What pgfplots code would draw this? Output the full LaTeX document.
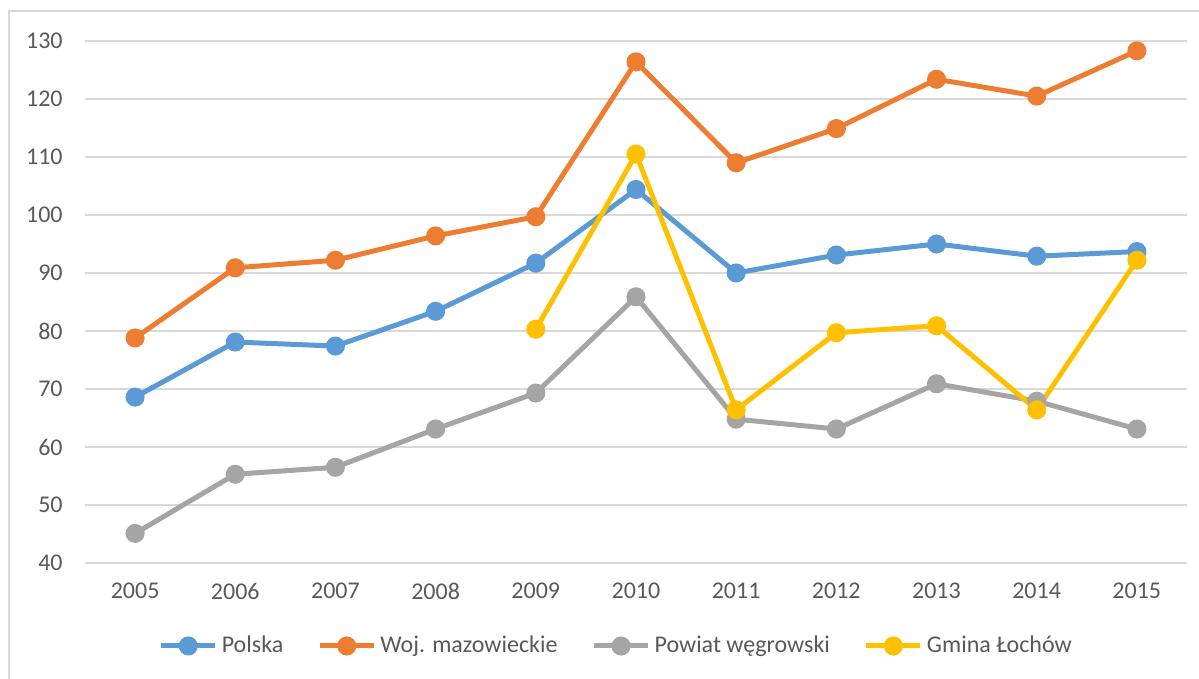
\documentclass[border=0pt]{standalone}
\usepackage{pgfplots}
\pgfplotsset{compat=1.18}
\usepackage{fontspec}
\setmainfont{Carlito}
\definecolor{cPol}{HTML}{5B9BD5}
\definecolor{cWoj}{HTML}{ED7D31}
\definecolor{cPow}{HTML}{A5A5A5}
\definecolor{cGmi}{HTML}{FFC000}
\definecolor{gridc}{HTML}{D9D9D9}
\definecolor{txt}{HTML}{595959}
\begin{document}
\fontsize{12}{14}\selectfont
\begin{tikzpicture}[x=0.5pt,y=0.5pt]
\useasboundingbox (0,0) rectangle (1199,679);
\draw[gridc,line width=0.8pt] (9,0) -- (9,668) -- (1199,668);
\begin{axis}[
  at={(42.5pt,58pt)}, anchor=south west,
  scale only axis, width=551pt, height=261pt,
  xmin=2004.5, xmax=2015.5, ymin=40, ymax=130,
  xtick={2005,...,2015},
  xticklabels={2005,2006,2007,2008,2009,2010,2011,2012,2013,2014,2015},
  ytick={40,50,...,130},
  axis line style={draw=none},
  major tick length=0pt,
  ymajorgrids, grid style={gridc,line width=0.75pt},
  tick label style={font=\fontsize{12}{14}\selectfont, text=txt},
  /pgf/number format/assume math mode=true,
  yticklabel style={xshift=-7pt},
  xticklabel style={yshift=-6pt},
  every axis plot/.append style={line width=2.5pt, mark=*, mark size=3.5pt},
  legend columns=-1,
  legend style={draw=none, fill=none, at={(0.483,-0.159)}, anchor=center,
    font=\fontsize{12}{14}\selectfont, text=txt,
    /tikz/every even column/.append style={column sep=15pt}},
  legend image code/.code={
    \draw[#1,mark=none] (0pt,0pt) -- (27pt,0pt);
    \draw[#1,only marks] plot coordinates {(13.5pt,0pt)};
  },
]
\addplot[color=cPol, mark options={fill=cPol}] coordinates {
(2005,68.6) (2006,78.1) (2007,77.4) (2008,83.4) (2009,91.7) (2010,104.4)
(2011,90.0) (2012,93.1) (2013,95.0) (2014,92.9) (2015,93.7)};
\addlegendentry{Polska}
\addplot[color=cWoj, mark options={fill=cWoj}] coordinates {
(2005,78.8) (2006,90.9) (2007,92.2) (2008,96.4) (2009,99.7) (2010,126.4)
(2011,109.0) (2012,114.9) (2013,123.4) (2014,120.5) (2015,128.3)};
\addlegendentry{Woj. mazowieckie}
\addplot[color=cPow, mark options={fill=cPow}] coordinates {
(2005,45.1) (2006,55.3) (2007,56.5) (2008,63.1) (2009,69.3) (2010,85.9)
(2011,64.8) (2012,63.1) (2013,70.9) (2014,67.9) (2015,63.1)};
\addlegendentry{Powiat węgrowski}
\addplot[color=cGmi, mark options={fill=cGmi}] coordinates {
(2009,80.3) (2010,110.5) (2011,66.4) (2012,79.7) (2013,80.9) (2014,66.4) (2015,92.2)};
\addlegendentry{Gmina Łochów}
\end{axis}
\end{tikzpicture}
\end{document}
